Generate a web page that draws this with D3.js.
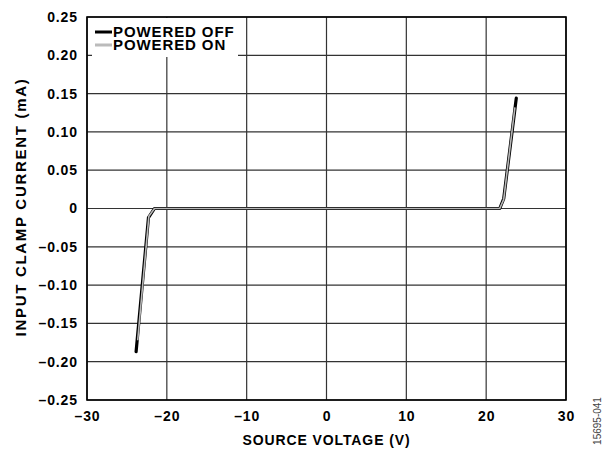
<!DOCTYPE html>
<html>
<head>
<meta charset="utf-8">
<script src="https://cdn.jsdelivr.net/npm/d3@7"></script>
<style>
  body { margin: 0; background: #fff; }
  text { font-family: "Liberation Sans", Arial, sans-serif; }
</style>
</head>
<body>
<svg id="chart" width="602" height="452"></svg>
<script>
// source voltage (V) vs input clamp current (mA)
var offVolts = [-23.85, -22.3, -21.55, 0, 21.7, 22.2, 23.77];
var offAmps  = [-0.187, -0.012, 0, 0, 0, 0.013, 0.144];
var onVolts  = [-23.65, -22.25, -21.55, 0, 21.7, 22.2, 23.6];
var onAmps   = [-0.172, -0.010, 0, 0, 0, 0.012, 0.132];

var xTicks = [-30, -20, -10, 0, 10, 20, 30];
var yTicks = [-0.25, -0.20, -0.15, -0.10, -0.05, 0, 0.05, 0.10, 0.15, 0.20, 0.25];

var svg = d3.select("#chart");
var margin = {left: 87, top: 17, right: 36, bottom: 52};
var width = 602 - margin.left - margin.right;
var height = 452 - margin.top - margin.bottom;

var x = d3.scaleLinear().domain([-30, 30]).range([0, width]);
var y = d3.scaleLinear().domain([-0.25, 0.25]).range([height, 0]);

var g = svg.append("g").attr("transform", "translate(" + margin.left + "," + margin.top + ")");

function fmt(v, digits) {
  var s = Math.abs(v).toFixed(digits);
  return (v < 0 ? "\u2013" : "") + s;
}

function boldText(sel, size, spacing) {
  sel.attr("font-size", size || 14).attr("font-weight", "bold").attr("fill", "#000")
    .style("font-family", "'Liberation Sans', Arial, sans-serif")
    .style("letter-spacing", (spacing || 0.9) + "px");
}

// grid
g.selectAll(".vgrid").data(xTicks).enter().append("line")
  .attr("x1", function(d) { return x(d); }).attr("x2", function(d) { return x(d); })
  .attr("y1", 0).attr("y2", height)
  .attr("stroke", "#333").attr("stroke-width", 1.2);
g.selectAll(".hgrid").data(yTicks).enter().append("line")
  .attr("y1", function(d) { return y(d); }).attr("y2", function(d) { return y(d); })
  .attr("x1", 0).attr("x2", width)
  .attr("stroke", "#333").attr("stroke-width", 1.2);

// axes labels
var yAxis = d3.axisLeft(y).tickValues(yTicks).tickSize(0).tickPadding(9)
  .tickFormat(function(d) { return d === 0 ? "0" : fmt(d, 2); });
var yg = g.append("g").call(yAxis);
yg.select(".domain").remove();
yg.selectAll("text").call(boldText);

var xAxis = d3.axisBottom(x).tickValues(xTicks).tickSize(0).tickPadding(11)
  .tickFormat(function(d) { return fmt(d, 0); });
var xg = g.append("g").attr("transform", "translate(0," + height + ")").call(xAxis);
xg.select(".domain").remove();
xg.selectAll("text").call(boldText);

// border
g.append("rect").attr("width", width).attr("height", height)
  .attr("fill", "none").attr("stroke", "#000").attr("stroke-width", 1.6);

// legend box
var leg = g.append("g").attr("transform", "translate(5,1)");
leg.append("rect").attr("width", 146).attr("height", 39).attr("fill", "#fff");
var legItems = [["POWERED OFF", "#000"], ["POWERED ON", "#bbb"]];
legItems.forEach(function(it, i) {
  var ly = 14 + i * 13;
  leg.append("line").attr("x1", 3).attr("x2", 20).attr("y1", ly).attr("y2", ly)
    .attr("stroke", it[1]).attr("stroke-width", 3);
  leg.append("text").attr("x", 21).attr("y", ly + 5).text(it[0]).call(boldText, 15);
});

// series
var line = d3.line().x(function(d) { return x(d[0]); }).y(function(d) { return y(d[1]); });
g.append("path").datum(d3.zip(offVolts, offAmps)).attr("d", line)
  .attr("fill", "none").attr("stroke", "#000").attr("stroke-width", 3.2).attr("stroke-linejoin", "round").attr("stroke-linecap", "round");
g.append("path").datum(d3.zip(onVolts, onAmps)).attr("d", line)
  .attr("fill", "none").attr("stroke", "#b8b8b8").attr("stroke-width", 1.6).attr("stroke-linejoin", "round");

// titles
svg.append("text").attr("x", margin.left + width / 2).attr("y", 445)
  .attr("text-anchor", "middle").text("SOURCE VOLTAGE (V)").call(boldText);
svg.append("text").attr("transform", "translate(26,207) rotate(-90)")
  .attr("text-anchor", "middle").text("INPUT CLAMP CURRENT (mA)").call(boldText, 15, 1.7);
svg.append("text").attr("transform", "translate(601,421) rotate(-90)")
  .attr("text-anchor", "middle").attr("font-size", 10).attr("fill", "#444")
  .text("15695-041");
</script>
</body>
</html>
